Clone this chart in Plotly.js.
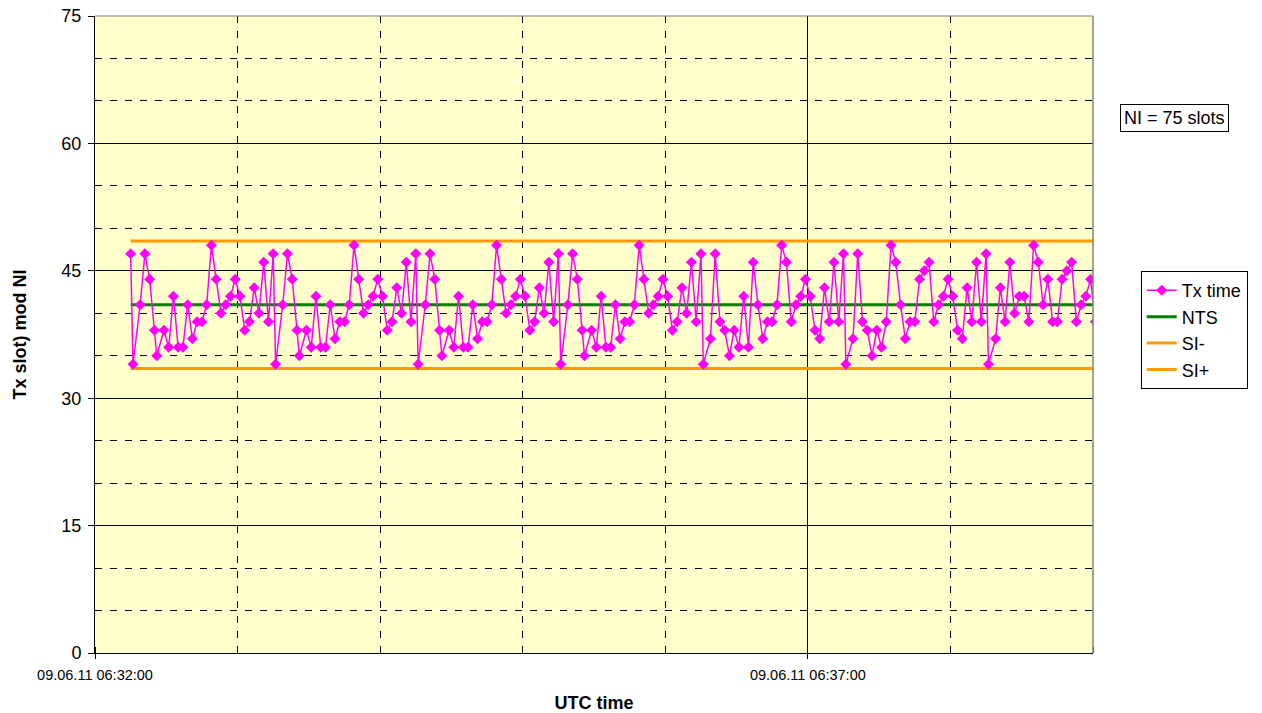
<!DOCTYPE html>
<html>
<head>
<meta charset="utf-8">
<script src="https://cdn.plot.ly/plotly-3.0.1.min.js"></script>
<style>
  html, body { margin: 0; padding: 0; background: #ffffff; }
  #chart { width: 1262px; height: 713px; }
</style>
</head>
<body>
<div id="chart"></div>
<script>
// ---- data ----
// base date/time of the x axis
const baseDate = '2011-06-09';
const baseHour = 6;
const baseMinute = 32;

// transmission times, seconds after 06:32:00
const txSeconds = [
  15,16,19,21,23,25,26,29,31,33,35,37,39,41,43,45,47,49,51,53,55,57,59,61,63,65,67,69,71,73,
  75,76,79,81,83,85,86,89,91,93,95,97,99,101,103,105,107,109,111,113,115,117,119,121,123,125,127,129,131,133,
  135,136,139,141,143,145,146,149,151,153,155,157,159,161,163,165,167,169,171,173,175,177,179,181,183,185,187,189,191,193,
  195,196,199,201,203,205,206,209,211,213,215,217,219,221,223,225,227,229,231,233,235,237,239,241,243,245,247,249,251,253,
  255,256,259,261,263,265,267,269,271,273,275,277,279,281,283,285,287,289,291,293,295,297,299,301,303,305,307,309,311,313,
  315,316,319,321,323,325,327,329,331,333,335,337,339,341,343,345,347,349,351,353,355,357,359,361,363,365,367,369,371,373,
  375,376,379,381,383,385,387,389,391,393,395,397,399,401,403,405,407,409,411,413,415,417,419,421
];

// Tx slot mod NI
const txSlot = [
  47,34,41,47,44,38,35,38,36,42,36,36,41,37,39,39,41,48,44,40,41,42,44,42,38,39,43,40,46,39,
  47,34,41,47,44,38,35,38,36,42,36,36,41,37,39,39,41,48,44,40,41,42,44,42,38,39,43,40,46,39,
  47,34,41,47,44,38,35,38,36,42,36,36,41,37,39,39,41,48,44,40,41,42,44,42,38,39,43,40,46,39,
  47,34,41,47,44,38,35,38,36,42,36,36,41,37,39,39,41,48,44,40,41,42,44,42,38,39,43,40,46,39,
  47,34,37,47,39,38,35,38,36,42,36,46,41,37,39,39,41,48,46,39,41,42,44,42,38,37,43,39,46,39,
  47,34,37,47,39,38,35,38,36,39,48,46,41,37,39,39,44,45,46,39,41,42,44,42,38,37,43,39,46,39,
  47,34,37,43,39,46,40,42,42,39,48,46,41,44,39,39,44,45,46,39,41,42,44,39
];

const ntsValue = 41;      // NTS
const siMinusValue = 33.5; // SI-
const siPlusValue = 48.5;  // SI+

const seriesNames = ['Tx time', 'NTS', 'SI-', 'SI+'];
const xTickFirst = '2011-06-09 06:32:00';
const xRangeEnd = '2011-06-09 06:39:00';
const niLabel = 'NI = 75 slots';
const xTitle = 'UTC time';
const yTitle = 'Tx slot) mod NI';

// ---- helpers ----
function pad(n) { return (n < 10 ? '0' : '') + n; }
function toDate(sec) {
  const m = baseMinute + Math.floor(sec / 60);
  const s = sec % 60;
  return baseDate + ' ' + pad(baseHour) + ':' + pad(m) + ':' + pad(s);
}
const txTimes = txSeconds.map(toDate);
const lineX = [txTimes[0], txTimes[txTimes.length - 1]];

const FONT = 'Liberation Sans, Arial, sans-serif';

const traces = [
  {
    name: seriesNames[1], x: lineX, y: [ntsValue, ntsValue],
    type: 'scatter', mode: 'lines', line: { color: '#008000', width: 3 },
    legendrank: 2, legendgroup: 'b', hoverinfo: 'skip'
  },
  {
    name: seriesNames[2], x: lineX, y: [siMinusValue, siMinusValue],
    type: 'scatter', mode: 'lines', line: { color: '#FF9900', width: 3 },
    legendrank: 3, legendgroup: 'c', hoverinfo: 'skip'
  },
  {
    name: seriesNames[3], x: lineX, y: [siPlusValue, siPlusValue],
    type: 'scatter', mode: 'lines', line: { color: '#FF9900', width: 3 },
    legendrank: 4, legendgroup: 'd', hoverinfo: 'skip'
  },
  {
    name: seriesNames[0], x: txTimes, y: txSlot,
    type: 'scatter', mode: 'lines+markers',
    line: { color: '#FF00FF', width: 1.5 },
    marker: { symbol: 'diamond', size: 8.5, color: '#FF00FF' },
    legendrank: 1, legendgroup: 'a'
  }
];

const layout = {
  width: 1262, height: 713,
  margin: { l: 95, r: 169, t: 16, b: 60, pad: 0 },
  paper_bgcolor: '#ffffff',
  plot_bgcolor: '#FFFFCC',
  font: { family: FONT, color: '#000000', size: 18 },
  showlegend: true,
  legend: {
    x: 1.0478, y: 0.5995, xanchor: 'left', yanchor: 'top',
    bgcolor: '#ffffff', bordercolor: '#000000', borderwidth: 1,
    font: { family: FONT, size: 18, color: '#000000' },
    tracegroupgap: 1, traceorder: 'normal',
    entrywidth: 70, entrywidthmode: 'pixels'
  },
  xaxis: {
    type: 'date',
    range: [xTickFirst, xRangeEnd],
    tick0: xTickFirst, dtick: 300000,
    tickformat: '%d.%m.%y %H:%M:%S',
    tickfont: { family: FONT, size: 14.5, color: '#000000' },
    ticks: 'outside', ticklen: 5, tickcolor: '#000000',
    ticklabelstandoff: 4,
    showline: true, linecolor: '#000000', linewidth: 1,
    showgrid: true, gridcolor: '#000000', gridwidth: 1,
    zeroline: false,
    minor: {
      dtick: 60000, showgrid: true, gridcolor: '#000000', gridwidth: 1,
      griddash: '7px,8px', ticks: 'inside', ticklen: 6, tickcolor: '#000000'
    },
    title: { text: xTitle, font: { family: FONT, size: 18, color: '#000000', weight: 'bold' }, standoff: 14 }
  },
  yaxis: {
    range: [0, 75], dtick: 15, tick0: 0,
    tickfont: { family: FONT, size: 18, color: '#000000' },
    ticks: 'outside', ticklen: 6, tickcolor: '#000000',
    ticklabelstandoff: 3,
    showline: true, linecolor: '#000000', linewidth: 1,
    showgrid: true, gridcolor: '#000000', gridwidth: 1,
    zeroline: false,
    minor: {
      dtick: 5, showgrid: true, gridcolor: '#000000', gridwidth: 1,
      griddash: '7px,8px', ticks: ''
    },
    title: { text: yTitle, font: { family: FONT, size: 18, color: '#000000', weight: 'bold' }, standoff: 30 }
  },
  shapes: [
    { type: 'line', xref: 'paper', yref: 'paper', x0: 1, x1: 1, y0: 0, y1: 1,
      line: { color: '#808080', width: 1.5 }, layer: 'above' },
    { type: 'line', xref: 'paper', yref: 'paper', x0: 0, x1: 1, y0: 1, y1: 1,
      line: { color: '#808080', width: 1 }, layer: 'above' }
  ],
  annotations: [
    { text: niLabel, xref: 'paper', yref: 'paper', x: 1.0812, y: 0.8393,
      xanchor: 'center', yanchor: 'middle', showarrow: false,
      font: { family: FONT, size: 18, color: '#000000' },
      bgcolor: '#ffffff', bordercolor: '#000000', borderwidth: 1, borderpad: 3 }
  ]
};

Plotly.newPlot('chart', traces, layout, { staticPlot: true, displayModeBar: false });
</script>
</body>
</html>
